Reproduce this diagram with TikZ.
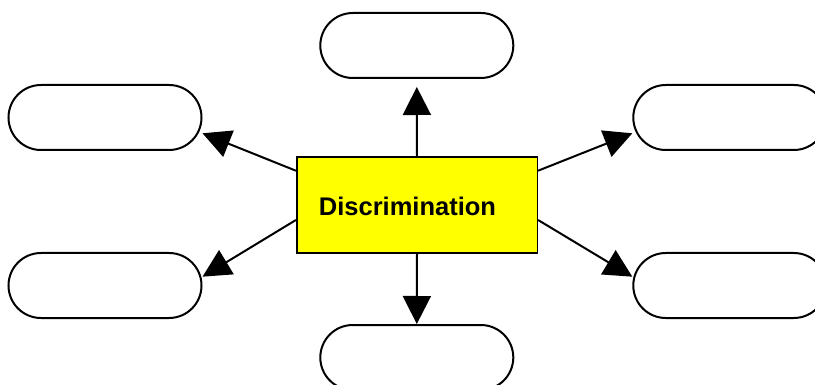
\documentclass[tikz,border=0pt]{standalone}
\usepackage{fontspec}
\setmainfont{Liberation Sans}
\usetikzlibrary{arrows.meta,calc}
\definecolor{pureyellow}{RGB}{255,255,0}
\begin{document}
\begin{tikzpicture}[x=1pt,y=-1pt,
  pill/.style={draw=black,line width=2pt,fill=white,rounded corners=32.5pt,
    minimum width=193pt,minimum height=65pt,inner sep=0pt},
  mainbox/.style={draw=black,line width=1.6pt,fill=pureyellow,
    minimum width=240.6pt,minimum height=96pt,inner sep=0pt},
  conn/.style={line width=2pt,-{Triangle[length=28pt,width=28pt]}}]
\clip (0,0) rectangle (815,385);
\fill[white] (0,0) rectangle (815,385);
\node[pill] (t)  at (416.8,45.5) {};
\node[pill] (b)  at (416.8,357.5) {};
\node[pill] (lu) at (105,117.5) {};
\node[pill] (ll) at (105,285.5) {};
\node[pill] (ru) at (729.8,117.5) {};
\node[pill] (rl) at (729.8,285.5) {};
\node[mainbox] (c) at (417,205.3) {};
\node[anchor=base,font=\fontsize{25.5}{30}\selectfont\bfseries,inner sep=0pt] (ct) at (407.5,215.7) {Discrimination};
\coordinate (tt)  at ($(t.south)+(0,8)$);
\coordinate (tlu) at ($(lu.east)+(0,15.8)$);
\coordinate (tll) at ($(ll.east)+(0,-8.8)$);
\coordinate (tru) at ($(ru.west)+(0,15.8)$);
\coordinate (trl) at ($(rl.west)+(0,-8.8)$);
\coordinate (slu) at ($(c.west)+(0,-34.6)$);
\coordinate (sll) at ($(c.west)+(0,14.7)$);
\coordinate (sru) at ($(c.east)+(0,-34.6)$);
\coordinate (srl) at ($(c.east)+(0,14.7)$);
\draw[conn] (c.north) -- (tt);
\draw[conn] (c.south) -- (b.north);
\draw[conn] (slu) -- (tlu);
\draw[conn] (sll) -- (tll);
\draw[conn] (sru) -- (tru);
\draw[conn] (srl) -- (trl);
\end{tikzpicture}
\end{document}
